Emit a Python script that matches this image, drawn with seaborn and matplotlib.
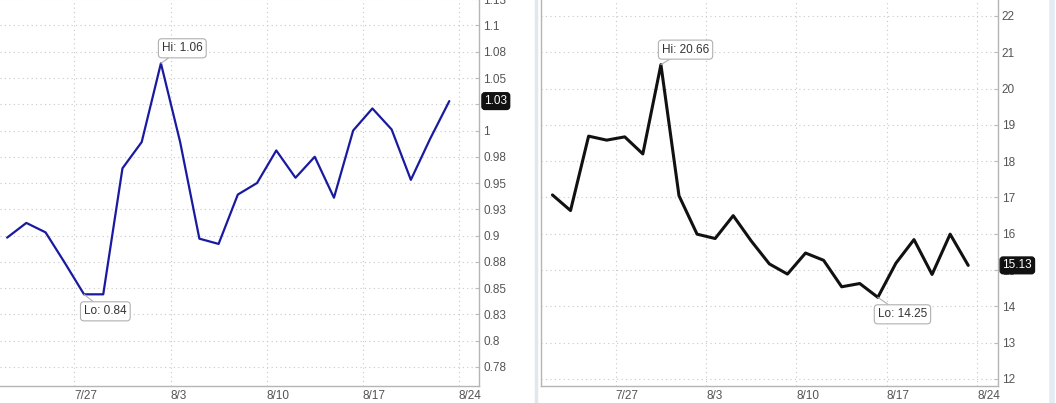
import pandas as pd
import matplotlib.pyplot as plt
import seaborn as sns
from matplotlib.lines import Line2D

# trading days shown on both charts
dates = ['7/21', '7/22', '7/23', '7/24', '7/27', '7/28', '7/29', '7/30', '7/31',
         '8/3', '8/4', '8/5', '8/6', '8/7', '8/10', '8/11', '8/12', '8/13', '8/14',
         '8/17', '8/18', '8/19', '8/20', '8/21']
week_labels = ['7/27', '8/3', '8/10', '8/17', '8/24']

left_values = [0.898, 0.912, 0.903, 0.874, 0.844, 0.844, 0.964, 0.989, 1.064, 0.989,
               0.897, 0.892, 0.939, 0.950, 0.981, 0.955, 0.975, 0.936, 1.000, 1.021,
               1.001, 0.953, 0.992, 1.028]
right_values = [17.07, 16.64, 18.69, 18.58, 18.67, 18.20, 20.66, 17.05, 15.99, 15.87,
                16.50, 15.80, 15.17, 14.89, 15.47, 15.27, 14.54, 14.63, 14.25, 15.19,
                15.84, 14.88, 15.99, 15.13]

left_yticks = [0.775, 0.8, 0.825, 0.85, 0.875, 0.9, 0.925, 0.95, 0.975, 1.0,
               1.025, 1.05, 1.075, 1.1, 1.125]
left_ylabels = ['0.78', '0.8', '0.83', '0.85', '0.88', '0.9', '0.93', '0.95', '0.98', '1',
                '1.03', '1.05', '1.08', '1.1', '1.13']
right_yticks = [12, 13, 14, 15, 16, 17, 18, 19, 20, 21, 22]
right_ylabels = [str(v) for v in right_yticks]

left_hi, left_lo, left_last = 'Hi: 1.06', 'Lo: 0.84', '1.03'
right_hi, right_lo, right_last = 'Hi: 20.66', 'Lo: 14.25', '15.13'

sns.set_style('white')
plt.rcParams['font.family'] = ['Liberation Sans', 'DejaVu Sans']

W, H = 1056, 403
fig = plt.figure(figsize=(W / 100, H / 100), dpi=100)

tick_pos = [dates.index(d) - 0.5 if d in dates else len(dates) - 0.5 for d in week_labels]


def draw_panel(ax, values, color, lw, yticks, ylabels, ylim, xlim, hi, lo, last):
    df = pd.DataFrame({'pos': range(len(dates)), 'value': values})
    sns.lineplot(data=df, x='pos', y='value', ax=ax, color=color, linewidth=lw)
    ax.set_xlim(xlim)
    ax.set_ylim(ylim)
    ax.set_xlabel('')
    ax.set_ylabel('')
    ax.set_xticks(tick_pos)
    ax.set_xticklabels(week_labels, ha='left')
    ax.set_yticks(yticks)
    ax.set_yticklabels(ylabels)
    ax.yaxis.tick_right()
    ax.grid(True, linestyle=(0, (1, 3)), color='#c8c8c8', linewidth=0.8)
    ax.tick_params(axis='y', direction='in', length=3, color='#bbbbbb', pad=3,
                   labelsize=8.5, labelcolor='#555555')
    ax.tick_params(axis='x', direction='in', length=3, color='#bbbbbb', pad=3,
                   labelsize=8.5, labelcolor='#555555')
    for s in ax.spines.values():
        s.set_color('#b5b5b5')
        s.set_linewidth(1)
    ax.spines['top'].set_visible(False)

    # high / low callouts
    i_hi = values.index(max(values))
    i_lo = values.index(min(values))
    box = dict(boxstyle='round,pad=0.3,rounding_size=0.3', fc='white', ec='#b0b0b0', lw=0.8)
    ax.annotate(hi, xy=(i_hi, values[i_hi]), xytext=(1, 9), textcoords='offset pixels',
                ha='left', va='bottom', fontsize=8.5, color='#333333', bbox=box,
                arrowprops=dict(arrowstyle='-', color='#b0b0b0', lw=0.8, shrinkA=0, shrinkB=0))
    ax.annotate(lo, xy=(i_lo, values[i_lo]), xytext=(0, -11), textcoords='offset pixels',
                ha='left', va='top', fontsize=8.5, color='#333333', bbox=box,
                arrowprops=dict(arrowstyle='-', color='#b0b0b0', lw=0.8, shrinkA=0, shrinkB=0))

    # last value tag on the axis
    ax.annotate(last, xy=(1, values[-1]), xycoords=ax.get_yaxis_transform(),
                xytext=(5, 0), textcoords='offset pixels', ha='left', va='center',
                fontsize=8.5, color='white', annotation_clip=False,
                bbox=dict(boxstyle='round,pad=0.2,rounding_size=0.25', fc='#111111', ec='#111111'))


bottom = (H - 386) / H
height = (386 + 10) / H

ax1 = fig.add_axes([0, bottom, 479.3 / W, height])
draw_panel(ax1, left_values, '#1a1aa0', 1.6, left_yticks, left_ylabels,
           (0.7567, 1.1338), (-0.37, 24.56), left_hi, left_lo, left_last)
ax1.spines['left'].set_visible(False)

ax2 = fig.add_axes([540.7 / W, bottom, (997.5 - 540.7) / W, height])
draw_panel(ax2, right_values, '#111111', 2.2, right_yticks, right_ylabels,
           (11.807, 22.716), (-0.65, 24.62), right_hi, right_lo, right_last)

# panel borders
fig.add_artist(Line2D([536 / W, 536 / W], [0, 1], color='#dfe8ee', lw=2.5))
fig.add_artist(Line2D([1052 / W, 1052 / W], [0, 1], color='#e3ecf2', lw=4))

fig.savefig('out.png', dpi=100)
